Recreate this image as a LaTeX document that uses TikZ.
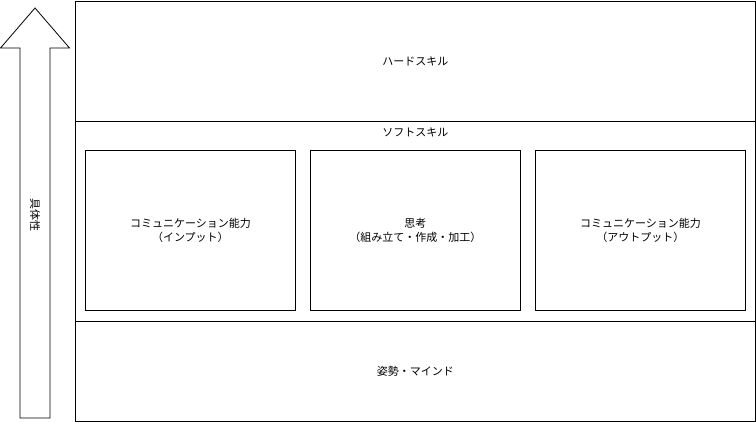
\documentclass[tikz,border=0pt]{standalone}
\usepackage{fontspec}
\setmainfont{Noto Sans CJK JP}
\usetikzlibrary{positioning}
\tikzset{
	band/.style={draw, rectangle, minimum width=680pt, inner sep=0pt, anchor=north west},
	skill/.style={draw, rectangle, minimum width=210pt, minimum height=160pt, inner sep=0pt, anchor=north west, align=center},
	lbl/.style={font=\fontsize{11pt}{14pt}\selectfont, align=center}
}
\begin{document}
\begin{tikzpicture}[x=1pt, y=-1pt, lbl, line width=0.8pt]
	\useasboundingbox (0,0) rectangle (756,421);
	% bands
	\node (hard) [band, minimum height=120pt] at (75,0.5) {ハードスキル};
	\node (soft) [band, minimum height=200pt] at (75,120.5) {};
	\node (softlbl) [below=4pt of soft.north] {ソフトスキル};
	\node (mind) [band, minimum height=100pt] at (75,320.5) {姿勢・マインド};
	% soft skill boxes
	\node (cin) [skill] at (85,150) {コミュニケーション能力\\（インプット）};
	\node (think) [skill] at (310,150) {思考\\（組み立て・作成・加工）};
	\node (cout) [skill] at (535,150) {コミュニケーション能力\\（アウトプット）};
	% arrow
	\draw (20,418) -- (20,48) -- (0.5,48) -- (35,8) -- (69.5,48) -- (50,48) -- (50,418) -- cycle;
	\node (concrete) [rotate=-90] at (35,215) {具体性};
\end{tikzpicture}
\end{document}
